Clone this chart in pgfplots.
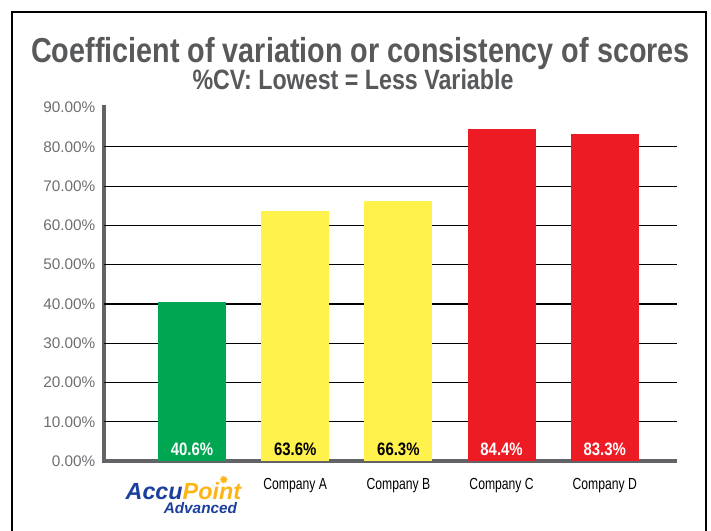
\documentclass[border=0pt]{standalone}
\usepackage{pgfplots}
\pgfplotsset{compat=1.18}
\usepackage{fontspec}
\setmainfont{Liberation Sans}
\newfontfamily\condfont[FakeStretch=0.83]{Liberation Sans}
\newfontfamily\narrowfont[FakeStretch=0.76]{Liberation Sans}
\newfontfamily\logofont{Liberation Sans}
\newfontfamily\symfont{DejaVu Sans}

\definecolor{titlegray}{HTML}{58595B}
\definecolor{tickgray}{HTML}{6D6E71}
\definecolor{axisgray}{HTML}{626366}
\definecolor{cvgreen}{HTML}{00A651}
\definecolor{cvyellow}{HTML}{FFF24D}
\definecolor{cvred}{HTML}{ED1C24}
\definecolor{accublue}{HTML}{1B3F9C}
\definecolor{accugold}{HTML}{FDB515}

% value label sitting at the foot of each bar
\pgfplotsset{
  footlabel/.style={
    nodes near coords={\pgfmathprintnumber[fixed,fixed zerofill,precision=1]{\pgfplotspointmeta}\%},
    visualization depends on=y \as \rawy,
    every node near coord/.append style={
      font=\condfont\bfseries\fontsize{13.5}{14}\selectfont,
      text=#1, anchor=base, inner sep=0pt,
      shift={(axis direction cs:0,-\rawy)}, yshift=4.5pt},
  },
}

\newcommand{\accustar}{\smash{\llap{\raisebox{11pt}{\symfont\fontsize{9}{9}\selectfont\textcolor{accugold}{✹}}\kern9pt}}}

\begin{document}
\begin{tikzpicture}
\useasboundingbox (0,0) rectangle (533.25pt,398.25pt);
\draw[black, line width=0.9pt] (9pt,-5pt) -- (9pt,389.25pt) -- (529.5pt,389.25pt) -- (529.5pt,-5pt);

\node[anchor=base, text=titlegray, font=\condfont\bfseries\fontsize{26}{28}\selectfont]
  at (270.4pt,351pt) {Coefficient of variation or consistency of scores};
\node[anchor=base, text=titlegray, font=\condfont\bfseries\fontsize{21}{23}\selectfont]
  at (264.75pt,330.75pt) {\%CV: Lowest = Less Variable};

\begin{axis}[
  at={(78pt,52.35pt)}, anchor=south west,
  scale only axis, width=429.75pt, height=265.3pt,
  xmin=-0.853, xmax=4.70, ymin=0, ymax=90,
  axis x line=bottom, axis y line=left,
  x axis line style={-, axisgray, line width=3.2pt},
  y axis line style={-, axisgray, line width=3pt, shorten <=-1.5pt, shorten >=-2pt},
  major tick length=0pt,
  ytick={0,10,...,90},
  yticklabel={\pgfmathprintnumber[fixed,fixed zerofill,precision=2]{\tick}\%},
  /pgf/number format/assume math mode=true,
  yticklabel style={font=\fontsize{11.5}{12}\selectfont, text=tickgray, anchor=east, xshift=-3pt},
  extra y ticks={10,20,...,80},
  extra y tick labels={},
  extra y tick style={grid=major, major grid style={black, line width=0.8pt}},
  xtick={0,1,2,3,4},
  xticklabels={
    {\begin{tabular}{@{}r@{}}\rule{0pt}{16pt}{\logofont\bfseries\itshape\fontsize{17.5}{18}\selectfont\textcolor{accublue}{Accu}\textcolor{accugold}{Point}\accustar}\kern13pt\\[-3pt]{\logofont\bfseries\itshape\fontsize{11.5}{12}\selectfont\textcolor{accublue}{Advanced}}\kern16pt\end{tabular}},
    Company A, Company B, Company C, Company D},
  xticklabel style={font=\narrowfont\fontsize{12}{14}\selectfont, text=black, anchor=north, yshift=-9pt},
]
\addplot[ybar, bar width=0.659, bar shift=0pt, fill=cvgreen, draw=none, footlabel=white]
  coordinates {(0,40.6)};
\addplot[ybar, bar width=0.659, bar shift=0pt, fill=cvyellow, draw=none, footlabel=black]
  coordinates {(1,63.6)};
\addplot[ybar, bar width=0.659, bar shift=0pt, fill=cvyellow, draw=none, footlabel=black]
  coordinates {(2,66.3)};
\addplot[ybar, bar width=0.659, bar shift=0pt, fill=cvred, draw=none, footlabel=white]
  coordinates {(3,84.4)};
\addplot[ybar, bar width=0.659, bar shift=0pt, fill=cvred, draw=none, footlabel=white]
  coordinates {(4,83.3)};
\end{axis}
\end{tikzpicture}
\end{document}
